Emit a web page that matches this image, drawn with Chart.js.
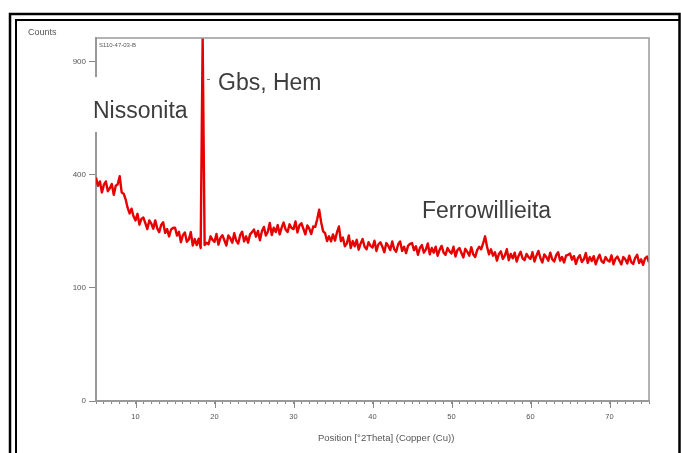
<!DOCTYPE html>
<html>
<head>
<meta charset="utf-8">
<script src="https://cdn.jsdelivr.net/npm/chart.js@4.4.1/dist/chart.umd.min.js"></script>
<style>
  body { margin: 0; background: #fff; }
  canvas { display: block; }
</style>
</head>
<body>
<canvas id="xrdChart" width="681" height="453"></canvas>
<script>
// scan grid (degrees 2Theta)
var twoThetaStart = 5;
var twoThetaStep = 0.25;

// counts, one row per 5 degrees
var counts = [
    390, 362, 377, 340, 366, 377, 344, 354, 368, 332, 362, 367, 395, 340, 336, 318, 292, 275, 289, 267,
    255, 274, 243, 259, 263, 247, 231, 255, 246, 232, 255, 233, 223, 242, 250, 221, 231, 212, 230, 234,
    235, 214, 224, 197, 215, 222, 198, 204, 223, 189, 205, 190, 206, 183, 1030, 190, 196, 192, 212, 203,
    198, 218, 191, 208, 215, 202, 189, 214, 207, 196, 220, 201, 194, 215, 224, 199, 212, 196, 217, 223,
    230, 211, 226, 202, 225, 237, 214, 224, 248, 215, 235, 223, 242, 217, 235, 249, 230, 223, 244, 234,
    231, 252, 222, 241, 247, 232, 217, 241, 232, 218, 238, 237, 258, 286, 250, 225, 220, 200, 212, 199,
    217, 201, 222, 238, 200, 209, 187, 194, 214, 183, 200, 187, 203, 179, 194, 205, 186, 180, 197, 188,
    184, 201, 176, 192, 197, 186, 173, 195, 188, 178, 199, 180, 174, 192, 199, 176, 186, 171, 188, 193,
    195, 178, 187, 167, 183, 190, 172, 179, 194, 168, 183, 172, 186, 165, 179, 188, 172, 167, 183, 175,
    170, 186, 163, 178, 183, 172, 161, 181, 174, 165, 185, 168, 162, 178, 186, 180, 194, 212, 186, 168,
    180, 165, 173, 154, 169, 175, 158, 165, 180, 155, 169, 159, 172, 152, 165, 174, 159, 155, 169, 162,
    158, 173, 152, 165, 176, 160, 150, 168, 162, 154, 172, 157, 152, 166, 173, 154, 162, 150, 165, 167,
    170, 156, 164, 147, 160, 166, 151, 157, 171, 149, 162, 153, 164, 146, 158, 167, 153, 149, 162, 155,
    152, 166, 146, 158, 163, 154, 146, 162, 157, 148, 165, 151, 147, 160, 167, 149, 157, 145, 159, 163, 150
];

var yTicks = [0, 100, 400, 900];
var xLabelEvery = 10;

var phaseLabels = [
    { text: 'Nissonita', x: 93, y: 118 },
    { text: 'Gbs, Hem', x: 218, y: 90 },
    { text: 'Ferrowillieita', x: 422, y: 218 }
];

// square root intensity axis, like the diffractometer software uses
class SqrtScale extends Chart.LinearScale {
    getPixelForValue(value) {
        var lo = Math.sqrt(this.min), hi = Math.sqrt(this.max);
        return this.getPixelForDecimal((Math.sqrt(Math.max(value || 0, 0)) - lo) / (hi - lo));
    }
    getValueForPixel(pixel) {
        var lo = Math.sqrt(this.min), hi = Math.sqrt(this.max);
        var s = lo + this.getDecimalForPixel(pixel) * (hi - lo);
        return s * s;
    }
}
SqrtScale.id = 'sqrt';
SqrtScale.defaults = Chart.LinearScale.defaults;
Chart.register(SqrtScale);

var points = counts.map(function (c, i) {
    return { x: twoThetaStart + i * twoThetaStep, y: c };
});

var frames = {
    id: 'frames',
    beforeDraw: function (chart) {
        var c = chart.ctx;
        c.save();
        c.fillStyle = '#fff';
        c.fillRect(0, 0, chart.width, chart.height);
        c.strokeStyle = '#000';
        c.lineWidth = 2.5;
        c.beginPath();
        c.moveTo(10, 453); c.lineTo(10, 14); c.lineTo(679.5, 14); c.lineTo(679.5, 453);
        c.stroke();
        c.lineWidth = 2;
        c.beginPath();
        c.moveTo(16, 453); c.lineTo(16, 20); c.lineTo(679, 20);
        c.stroke();
        c.restore();
    },
    afterDraw: function (chart) {
        var c = chart.ctx, a = chart.chartArea, x = chart.scales.x;
        c.save();
        // top and right side of the plot box
        c.strokeStyle = '#9a9a9a';
        c.lineWidth = 1.5;
        c.beginPath();
        c.moveTo(a.left, a.top); c.lineTo(a.right, a.top); c.lineTo(a.right, a.bottom);
        c.stroke();
        // longer ticks at the labelled positions
        c.strokeStyle = '#888';
        c.lineWidth = 1;
        for (var v = 10; v <= 70; v += xLabelEvery) {
            var px = Math.round(x.getPixelForValue(v)) + 0.5;
            c.beginPath(); c.moveTo(px, a.bottom); c.lineTo(px, a.bottom + 7); c.stroke();
        }
        // texts
        c.fillStyle = '#555';
        c.font = '9px "Liberation Sans", Arial, sans-serif';
        c.textBaseline = 'middle';
        c.fillText('Counts', 28, 33);
        c.font = '6px "Liberation Sans", Arial, sans-serif';
        c.fillText('S110-47-03-B', 99, 45);
        c.font = '9.5px "Liberation Sans", Arial, sans-serif';
        c.fillText('Position [°2Theta] (Copper (Cu))', 318, 438);
        // leader stub by the peak
        c.strokeStyle = '#777';
        c.beginPath(); c.moveTo(207, 79.5); c.lineTo(210, 79.5); c.stroke();
        // white box of the Nissonita label cuts the axis
        c.fillStyle = '#fff';
        c.fillRect(90, 77, 100, 55);
        c.fillStyle = '#3d3d3d';
        c.font = '23px "Liberation Sans", Arial, sans-serif';
        c.textBaseline = 'alphabetic';
        phaseLabels.forEach(function (l) {
            c.fillText(l.text, l.x, l.y);
        });
        c.restore();
    }
};

var xrdChart = new Chart(document.getElementById('xrdChart'), {
    type: 'line',
    data: {
        datasets: [{
            data: points,
            borderColor: '#e60000',
            borderWidth: 2.4,
            borderJoinStyle: 'round',
            pointRadius: 0,
            tension: 0
        }]
    },
    options: {
        responsive: false,
        animation: false,
        events: [],
        layout: { padding: { left: 52, top: 38, right: 32, bottom: 9 } },
        plugins: { legend: { display: false }, tooltip: { enabled: false } },
        scales: {
            x: {
                type: 'linear',
                min: 5,
                max: 75,
                afterFit: function (s) { s.height = 43; },
                ticks: {
                    stepSize: 1,
                    maxTicksLimit: 100,
                    autoSkip: false,
                    maxRotation: 0,
                    padding: 8,
                    color: '#555',
                    font: { size: 7.5, family: '"Liberation Sans", Arial, sans-serif' },
                    callback: function (v) { return v % xLabelEvery === 0 ? v : ''; }
                },
                grid: { drawOnChartArea: false, tickLength: 3, tickColor: '#888' },
                border: { color: '#999', width: 2 }
            },
            y: {
                type: 'sqrt',
                min: 0,
                max: 1030,
                afterFit: function (s) { s.width = 44; },
                afterBuildTicks: function (s) {
                    s.ticks = yTicks.map(function (v) { return { value: v }; });
                },
                ticks: {
                    padding: 3,
                    color: '#555',
                    font: { size: 8, family: '"Liberation Sans", Arial, sans-serif' }
                },
                grid: { drawOnChartArea: false, tickLength: 7, tickColor: '#888' },
                border: { color: '#999', width: 2 }
            }
        }
    },
    plugins: [frames]
});
</script>
</body>
</html>
